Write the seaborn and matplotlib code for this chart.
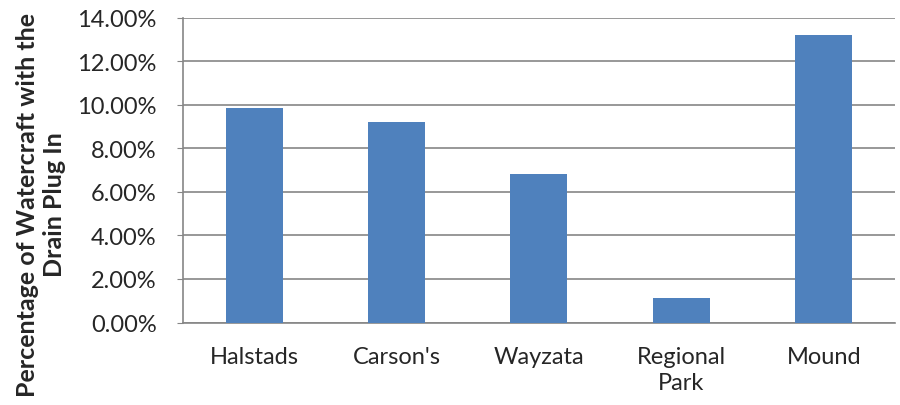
import matplotlib
matplotlib.use("Agg")
import matplotlib.pyplot as plt
import seaborn as sns
import pandas as pd
from matplotlib.ticker import PercentFormatter

sites = ["Halstads", "Carson's", "Wayzata", "Regional\nPark", "Mound"]
pct_plug_in = [9.83, 9.19, 6.81, 1.12, 13.22]

df = pd.DataFrame({"site": sites, "pct": pct_plug_in})

sns.set_style("white")
plt.rcParams['font.family'] = ['Lato', 'DejaVu Sans']

fig = plt.figure(figsize=(9, 4.06), dpi=100)
ax = fig.add_axes([0.2033, 0.2032, 0.7911, 0.7512])

sns.barplot(data=df, x="site", y="pct", color="#4f81bd", width=0.4,
            saturation=1, linewidth=0, ax=ax, zorder=3)

ax.set_ylim(0, 14)
ax.set_yticks(range(0, 15, 2))
ax.yaxis.set_major_formatter(PercentFormatter(decimals=2))
ax.grid(axis="y", color="#868686", linewidth=1.2, zorder=0)
ax.set_axisbelow(True)

for s in ["top", "right"]:
    ax.spines[s].set_visible(False)
for s in ["left", "bottom"]:
    ax.spines[s].set_color("#868686")
    ax.spines[s].set_linewidth(1.2)

ax.tick_params(axis="y", length=4, color="#868686", labelsize=17, pad=15, left=True)
ax.tick_params(axis="x", length=0, labelsize=17, pad=17)
for t in ax.get_xticklabels():
    t.set_linespacing(1.3)
ax.set_xlabel("")
ax.set_ylabel("Percentage of Watercraft with the\nDrain Plug In", fontsize=18,
              fontweight="bold", linespacing=1.2)
ax.yaxis.set_label_coords(-0.164, 0.39)

fig.savefig("out.png", dpi=100)
